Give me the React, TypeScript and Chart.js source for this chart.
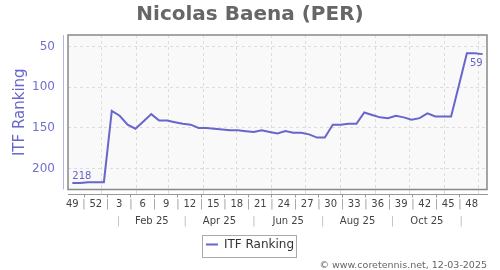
import React, { useEffect, useRef } from 'react';
import { Chart, registerables } from 'chart.js';
Chart.register(...registerables);

// ---- data ----
const chartTitle = 'Nicolas Baena (PER)';
const seriesName = 'ITF Ranking';
const footerText = '\u00a9 www.coretennis.net, 12-03-2025';
// weekly ITF ranking, first entry = week 49 of 2024
const ranks = [
  218, 218, 217, 217, 217, 129, 135, 146, 151, 142, 133, 141, 141,
  143, 145, 146, 150, 150, 151, 152, 153, 153, 154, 155, 153, 155,
  157, 154, 156, 156, 158, 162, 162, 146, 146, 145, 145, 131, 134,
  137, 138, 135, 137, 140, 138, 132, 136, 136, 136, 97, 58, 58, 59,
];
const weekLabels = ['49', '52', '3', '6', '9', '12', '15', '18', '21', '24', '27', '30', '33', '36', '39', '42', '45', '48'];
const monthLabels = ['Feb 25', 'Apr 25', 'Jun 25', 'Aug 25', 'Oct 25'];
const yTickValues = [50, 100, 150, 200];

// ---- helpers ----
const DAY = 86400000;
const firstDate = Date.UTC(2024, 11, 6);
const toWeek = (t: number) => (t - firstDate) / (7 * DAY);
const gridWeeks = Array.from({ length: 12 }, (_, m) => toWeek(Date.UTC(2025, m, 1)));
const sepWeeks = [0, 2, 4, 6, 8, 10].map((m) => toWeek(Date.UTC(2025, m, 16)));
const monthWeeks = sepWeeks.slice(0, -1).map((v, i) => (v + sepWeeks[i + 1]) / 2);

const LINE = '#6666cc';
const FONT = "'DejaVu Sans', sans-serif";

const framePlugin = {
  id: 'frame',
  beforeDraw(chart: any) {
    const { ctx, chartArea: a } = chart;
    ctx.save();
    ctx.fillStyle = '#f9f9f9';
    ctx.fillRect(a.left, a.top, a.right - a.left, a.bottom - a.top);
    ctx.restore();
  },
  afterDraw(chart: any) {
    const { ctx, chartArea: a } = chart;
    ctx.save();
    ctx.strokeStyle = '#888';
    ctx.lineWidth = 1.5;
    ctx.strokeRect(a.left, a.top, a.right - a.left, a.bottom - a.top);
    ctx.strokeStyle = '#b4b4e0';
    ctx.lineWidth = 1;
    ctx.beginPath();
    ctx.moveTo(Math.round(a.left - 5) + 0.5, a.top);
    ctx.lineTo(Math.round(a.left - 5) + 0.5, a.bottom);
    ctx.stroke();

    const meta = chart.getDatasetMeta(0);
    const pts = meta.data;
    const first = pts[0];
    const last = pts[pts.length - 1];
    ctx.font = `10px ${FONT}`;
    ctx.fillStyle = LINE;
    ctx.textBaseline = 'alphabetic';
    ctx.textAlign = 'left';
    ctx.fillText(String(ranks[0]), first.x, first.y - 4);
    ctx.textAlign = 'right';
    ctx.fillText(String(ranks[ranks.length - 1]), last.x, last.y + 12);

    const hb = chart.legend && chart.legend.legendHitBoxes && chart.legend.legendHitBoxes[0];
    if (hb) {
      ctx.strokeStyle = '#aaa';
      ctx.lineWidth = 1;
      const cy = hb.top + hb.height / 2 + 1;
      ctx.strokeRect(Math.round(hb.left - 4) + 0.5, Math.round(cy - 11) + 0.5, Math.round(hb.width + 6), 22);
    }
    ctx.restore();
  },
};

export default function App() {
  const ref = useRef<HTMLCanvasElement>(null);
  useEffect(() => {
    if (!ref.current) return;
    Chart.defaults.font.family = FONT;
    const chart = new Chart(ref.current, {
      type: 'line',
      data: {
        datasets: [
          {
            label: seriesName,
            data: ranks.map((r, i) => ({ x: i, y: r })),
            borderColor: LINE,
            backgroundColor: LINE,
            borderWidth: 2,
            pointRadius: 0,
            tension: 0,
            fill: false,
          },
        ],
      },
      options: {
        responsive: false,
        animation: false,
        layout: { padding: 0 },
        plugins: {
          title: {
            display: true,
            text: chartTitle,
            color: '#666',
            font: { size: 20, weight: 'bold', family: FONT },
            padding: { top: 3, bottom: 8 },
          },
          subtitle: {
            display: true,
            fullSize: false,
            text: footerText,
            position: 'bottom',
            align: 'end',
            color: '#666',
            font: { size: 9.5, family: FONT, lineHeight: 1 },
            padding: 0,
          },
          legend: {
            position: 'bottom',
            labels: {
              usePointStyle: true,
              pointStyle: 'line',
              pointStyleWidth: 12,
              color: '#333',
              font: { size: 12, family: FONT },
              padding: 2,
            },
          },
          tooltip: { enabled: false },
        },
        scales: {
          x: {
            type: 'linear',
            position: 'bottom',
            weight: 0,
            min: -0.55,
            max: ranks.length - 1 + 0.55,
            afterBuildTicks: (s: any) => {
              s.ticks = gridWeeks.map((v) => ({ value: v }));
            },
            afterFit: (s: any) => {
              s.height = 5;
            },
            ticks: { display: false },
            grid: { color: '#dddddd', tickColor: '#dddddd', tickLength: 5, drawTicks: true },
            border: { display: false, dash: [3, 3] },
          },
          xw: {
            type: 'linear',
            position: 'bottom',
            weight: 1,
            min: -0.181,
            max: 17.65,
            afterBuildTicks: (s: any) => {
              const t: any[] = [];
              for (let k = 0; k < weekLabels.length; k++) {
                t.push({ value: k });
                if (k < weekLabels.length - 1) t.push({ value: k + 0.5 });
              }
              s.ticks = t;
            },
            afterFit: (s: any) => {
              s.height = 16;
            },
            ticks: {
              autoSkip: false,
              maxRotation: 0,
              minRotation: 0,
              padding: 1,
              font: { size: 10, family: FONT },
              color: (c: any) => (Number.isInteger(c.tick.value) ? '#444' : '#999'),
              callback: (v: any) => (Number.isInteger(v) ? weekLabels[v] : '|'),
            },
            grid: {
              drawOnChartArea: false,
              drawTicks: true,
              tickLength: 3,
              tickColor: (c: any) => (c.tick && !Number.isInteger(c.tick.value) ? '#999' : 'rgba(0,0,0,0)'),
            },
            border: { display: true, color: '#999', width: 1 },
          },
          xm: {
            type: 'linear',
            position: 'bottom',
            weight: 2,
            min: -0.55,
            max: ranks.length - 1 + 0.55,
            afterBuildTicks: (s: any) => {
              const t: any[] = [];
              sepWeeks.forEach((v) => t.push({ value: v }));
              monthWeeks.forEach((v) => t.push({ value: v }));
              t.sort((a, b) => a.value - b.value);
              s.ticks = t;
            },
            afterFit: (s: any) => {
              s.height = 26;
            },
            ticks: {
              autoSkip: false,
              maxRotation: 0,
              minRotation: 0,
              padding: 5,
              font: { size: 10, family: FONT },
              color: (c: any) => (monthWeeks.indexOf(c.tick.value) >= 0 ? '#444' : '#bbb'),
              callback: (v: any) => {
                const i = monthWeeks.indexOf(v);
                return i >= 0 ? monthLabels[i] : '|';
              },
            },
            grid: { display: false, drawTicks: false },
            border: { display: false },
          },
          y: {
            type: 'linear',
            reverse: true,
            min: 35.4,
            max: 226,
            afterBuildTicks: (s: any) => {
              s.ticks = yTickValues.map((v) => ({ value: v }));
            },
            afterFit: (s: any) => {
              s.width = 68;
            },
            ticks: {
              color: '#7070d0',
              font: { size: 12, family: FONT },
              padding: 13,
            },
            grid: { color: '#dddddd', drawTicks: false },
            border: { display: false, dash: [3, 3] },
            title: {
              display: true,
              text: seriesName,
              color: '#6666cc',
              font: { size: 15, family: FONT },
              padding: { top: 11, bottom: 0 },
            },
          },
          yr: {
            type: 'linear',
            position: 'right',
            min: 0,
            max: 1,
            afterFit: (s: any) => {
              s.width = 13;
            },
            ticks: { display: false },
            grid: { display: false, drawTicks: false },
            border: { display: false },
          },
        },
      },
      plugins: [framePlugin],
    } as any);
    return () => chart.destroy();
  }, []);
  return (
    <div style={{ position: 'absolute', left: 0, top: 0, width: 500, height: 270 }}>
      <canvas ref={ref} width={500} height={270} />
    </div>
  );
}
